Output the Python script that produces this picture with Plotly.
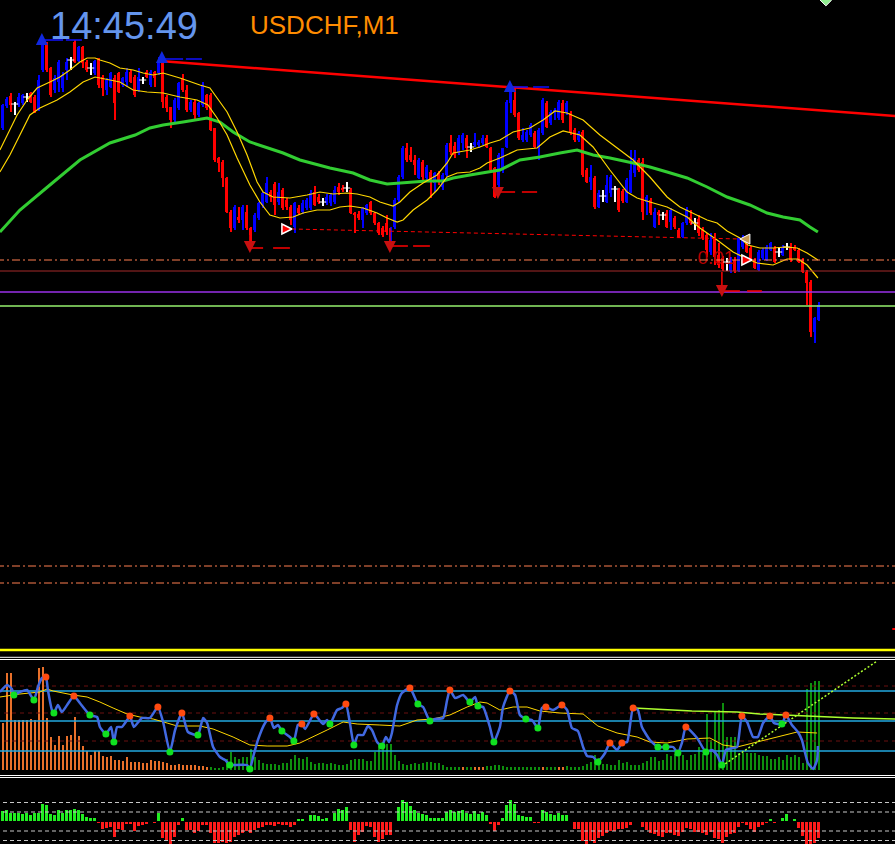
import plotly.graph_objects as go

# ---------------- main chart: USDCHF M1 candles ----------------
opens = [0.90872, 0.90894, 0.90904, 0.90896, 0.90895, 0.90897, 0.90903, 0.90907, 0.90903, 0.90890,
         0.90930, 0.90957, 0.90932, 0.90910, 0.90918, 0.90912, 0.90930, 0.90940, 0.90958, 0.90939,
         0.90953, 0.90938, 0.90932, 0.90927, 0.90942, 0.90923, 0.90910, 0.90913, 0.90922, 0.90927,
         0.90915, 0.90918, 0.90928, 0.90923, 0.90910, 0.90920, 0.90928, 0.90915, 0.90928, 0.90927,
         0.90938, 0.90903, 0.90893, 0.90880, 0.90892, 0.90922, 0.90910, 0.90890, 0.90898, 0.90885,
         0.90895, 0.90905, 0.90905, 0.90872, 0.90842, 0.90838, 0.90822, 0.90788, 0.90772, 0.90783,
         0.90780, 0.90788, 0.90772, 0.90770, 0.90782, 0.90795, 0.90798, 0.90808, 0.90816, 0.90798,
         0.90810, 0.90800, 0.90793, 0.90773, 0.90792, 0.90788, 0.90792, 0.90792, 0.90808, 0.90803,
         0.90798, 0.90797, 0.90797, 0.90798, 0.90813, 0.90812, 0.90812, 0.90810, 0.90787, 0.90786,
         0.90780, 0.90787, 0.90798, 0.90787, 0.90777, 0.90772, 0.90777, 0.90763, 0.90773, 0.90800,
         0.90823, 0.90852, 0.90845, 0.90840, 0.90822, 0.90838, 0.90822, 0.90828, 0.90817, 0.90827,
         0.90813, 0.90825, 0.90857, 0.90854, 0.90847, 0.90857, 0.90862, 0.90853, 0.90855, 0.90855,
         0.90857, 0.90862, 0.90852, 0.90832, 0.90815, 0.90830, 0.90853, 0.90897, 0.90900, 0.90887,
         0.90860, 0.90860, 0.90865, 0.90867, 0.90852, 0.90867, 0.90897, 0.90877, 0.90887, 0.90882,
         0.90897, 0.90888, 0.90887, 0.90870, 0.90860, 0.90868, 0.90830, 0.90818, 0.90822, 0.90793,
         0.90804, 0.90798, 0.90807, 0.90811, 0.90810, 0.90809, 0.90798, 0.90808, 0.90827, 0.90840,
         0.90838, 0.90798, 0.90800, 0.90773, 0.90788, 0.90785, 0.90787, 0.90778, 0.90782, 0.90770,
         0.90763, 0.90777, 0.90783, 0.90777, 0.90781, 0.90770, 0.90765, 0.90748, 0.90762, 0.90745,
         0.90742, 0.90738, 0.90729, 0.90740, 0.90729, 0.90753, 0.90761, 0.90752, 0.90740, 0.90730,
         0.90742, 0.90740, 0.90750, 0.90752, 0.90748, 0.90745, 0.90753, 0.90753, 0.90753, 0.90750,
         0.90740, 0.90728, 0.90718, 0.90668, 0.90680]
highs = [0.90896, 0.90903, 0.90907, 0.90898, 0.90907, 0.90906, 0.90907, 0.90908, 0.90905, 0.90925,
         0.90960, 0.90958, 0.90933, 0.90925, 0.90940, 0.90928, 0.90942, 0.90943, 0.90960, 0.90954,
         0.90954, 0.90940, 0.90937, 0.90940, 0.90942, 0.90925, 0.90922, 0.90928, 0.90925, 0.90928,
         0.90923, 0.90932, 0.90930, 0.90925, 0.90932, 0.90923, 0.90930, 0.90930, 0.90929, 0.90943,
         0.90942, 0.90905, 0.90893, 0.90902, 0.90918, 0.90926, 0.90915, 0.90900, 0.90900, 0.90898,
         0.90918, 0.90906, 0.90907, 0.90872, 0.90843, 0.90840, 0.90823, 0.90790, 0.90795, 0.90793,
         0.90795, 0.90795, 0.90773, 0.90787, 0.90798, 0.90808, 0.90823, 0.90810, 0.90818, 0.90817,
         0.90812, 0.90802, 0.90795, 0.90798, 0.90795, 0.90800, 0.90802, 0.90810, 0.90814, 0.90806,
         0.90802, 0.90806, 0.90807, 0.90814, 0.90817, 0.90815, 0.90818, 0.90812, 0.90788, 0.90789,
         0.90793, 0.90796, 0.90799, 0.90788, 0.90778, 0.90774, 0.90785, 0.90773, 0.90802, 0.90825,
         0.90854, 0.90857, 0.90853, 0.90845, 0.90842, 0.90840, 0.90835, 0.90830, 0.90828, 0.90829,
         0.90827, 0.90857, 0.90865, 0.90858, 0.90865, 0.90867, 0.90865, 0.90857, 0.90867, 0.90860,
         0.90865, 0.90865, 0.90853, 0.90833, 0.90847, 0.90852, 0.90900, 0.90915, 0.90912, 0.90888,
         0.90872, 0.90870, 0.90877, 0.90869, 0.90872, 0.90902, 0.90899, 0.90890, 0.90892, 0.90900,
         0.90900, 0.90899, 0.90889, 0.90872, 0.90869, 0.90870, 0.90832, 0.90835, 0.90824, 0.90810,
         0.90810, 0.90825, 0.90825, 0.90814, 0.90812, 0.90811, 0.90822, 0.90850, 0.90850, 0.90842,
         0.90842, 0.90805, 0.90802, 0.90792, 0.90790, 0.90788, 0.90790, 0.90792, 0.90784, 0.90772,
         0.90778, 0.90793, 0.90790, 0.90782, 0.90785, 0.90773, 0.90767, 0.90767, 0.90767, 0.90757,
         0.90744, 0.90742, 0.90743, 0.90743, 0.90763, 0.90765, 0.90763, 0.90754, 0.90742, 0.90750,
         0.90752, 0.90755, 0.90758, 0.90754, 0.90753, 0.90755, 0.90757, 0.90757, 0.90755, 0.90752,
         0.90742, 0.90730, 0.90720, 0.90683, 0.90698]
lows = [0.90870, 0.90892, 0.90888, 0.90885, 0.90893, 0.90895, 0.90898, 0.90897, 0.90887, 0.90889,
        0.90928, 0.90928, 0.90903, 0.90907, 0.90908, 0.90908, 0.90920, 0.90930, 0.90937, 0.90938,
        0.90932, 0.90928, 0.90925, 0.90925, 0.90912, 0.90904, 0.90905, 0.90912, 0.90880, 0.90907,
        0.90913, 0.90913, 0.90917, 0.90903, 0.90908, 0.90916, 0.90922, 0.90913, 0.90913, 0.90925,
        0.90892, 0.90888, 0.90872, 0.90878, 0.90890, 0.90908, 0.90888, 0.90888, 0.90880, 0.90883,
        0.90893, 0.90890, 0.90869, 0.90838, 0.90828, 0.90813, 0.90787, 0.90768, 0.90770, 0.90777,
        0.90770, 0.90770, 0.90755, 0.90768, 0.90780, 0.90792, 0.90797, 0.90798, 0.90785, 0.90795,
        0.90790, 0.90790, 0.90775, 0.90767, 0.90785, 0.90786, 0.90790, 0.90790, 0.90794, 0.90796,
        0.90794, 0.90795, 0.90794, 0.90796, 0.90805, 0.90808, 0.90808, 0.90786, 0.90767, 0.90780,
        0.90772, 0.90785, 0.90785, 0.90775, 0.90765, 0.90763, 0.90765, 0.90753, 0.90771, 0.90798,
        0.90821, 0.90838, 0.90838, 0.90825, 0.90821, 0.90820, 0.90820, 0.90802, 0.90808, 0.90815,
        0.90810, 0.90823, 0.90845, 0.90842, 0.90845, 0.90850, 0.90842, 0.90848, 0.90853, 0.90852,
        0.90855, 0.90852, 0.90828, 0.90802, 0.90813, 0.90827, 0.90852, 0.90887, 0.90883, 0.90860,
        0.90858, 0.90858, 0.90863, 0.90852, 0.90840, 0.90865, 0.90872, 0.90875, 0.90880, 0.90880,
        0.90877, 0.90885, 0.90865, 0.90858, 0.90858, 0.90823, 0.90817, 0.90810, 0.90791, 0.90792,
        0.90798, 0.90797, 0.90803, 0.90798, 0.90788, 0.90797, 0.90797, 0.90807, 0.90823, 0.90828,
        0.90780, 0.90785, 0.90785, 0.90772, 0.90775, 0.90780, 0.90772, 0.90770, 0.90771, 0.90762,
        0.90762, 0.90775, 0.90775, 0.90770, 0.90764, 0.90760, 0.90743, 0.90745, 0.90735, 0.90732,
        0.90729, 0.90729, 0.90727, 0.90727, 0.90728, 0.90751, 0.90747, 0.90741, 0.90731, 0.90729,
        0.90740, 0.90739, 0.90749, 0.90737, 0.90743, 0.90744, 0.90750, 0.90738, 0.90749, 0.90737,
        0.90727, 0.90695, 0.90663, 0.90657, 0.90679]
closes = [0.90895, 0.90901, 0.90895, 0.90896, 0.90903, 0.90905, 0.90903, 0.90898, 0.90888, 0.90920,
          0.90958, 0.90930, 0.90905, 0.90922, 0.90938, 0.90925, 0.90938, 0.90940, 0.90938, 0.90953,
          0.90937, 0.90930, 0.90932, 0.90939, 0.90915, 0.90912, 0.90920, 0.90927, 0.90897, 0.90908,
          0.90922, 0.90928, 0.90918, 0.90905, 0.90923, 0.90920, 0.90923, 0.90928, 0.90922, 0.90938,
          0.90898, 0.90892, 0.90880, 0.90900, 0.90917, 0.90910, 0.90890, 0.90898, 0.90885, 0.90897,
          0.90915, 0.90892, 0.90870, 0.90840, 0.90837, 0.90822, 0.90788, 0.90772, 0.90793, 0.90780,
          0.90793, 0.90772, 0.90765, 0.90785, 0.90797, 0.90807, 0.90817, 0.90803, 0.90795, 0.90808,
          0.90792, 0.90793, 0.90780, 0.90797, 0.90787, 0.90797, 0.90800, 0.90807, 0.90795, 0.90798,
          0.90798, 0.90803, 0.90805, 0.90810, 0.90808, 0.90810, 0.90812, 0.90787, 0.90785, 0.90782,
          0.90792, 0.90795, 0.90787, 0.90777, 0.90767, 0.90765, 0.90768, 0.90772, 0.90800, 0.90823,
          0.90852, 0.90840, 0.90840, 0.90835, 0.90840, 0.90823, 0.90833, 0.90820, 0.90827, 0.90818,
          0.90825, 0.90855, 0.90848, 0.90845, 0.90862, 0.90865, 0.90852, 0.90853, 0.90858, 0.90858,
          0.90862, 0.90853, 0.90830, 0.90803, 0.90845, 0.90852, 0.90898, 0.90912, 0.90885, 0.90862,
          0.90865, 0.90868, 0.90875, 0.90853, 0.90870, 0.90900, 0.90873, 0.90888, 0.90890, 0.90898,
          0.90880, 0.90897, 0.90868, 0.90860, 0.90867, 0.90825, 0.90818, 0.90823, 0.90793, 0.90807,
          0.90804, 0.90815, 0.90823, 0.90811, 0.90790, 0.90799, 0.90820, 0.90830, 0.90842, 0.90830,
          0.90788, 0.90803, 0.90787, 0.90788, 0.90785, 0.90785, 0.90773, 0.90790, 0.90773, 0.90763,
          0.90777, 0.90790, 0.90777, 0.90777, 0.90767, 0.90762, 0.90750, 0.90760, 0.90743, 0.90735,
          0.90731, 0.90738, 0.90742, 0.90729, 0.90762, 0.90762, 0.90748, 0.90742, 0.90732, 0.90748,
          0.90750, 0.90753, 0.90757, 0.90738, 0.90748, 0.90753, 0.90753, 0.90740, 0.90750, 0.90738,
          0.90728, 0.90717, 0.90668, 0.90682, 0.90695]

# moving averages (bar index, price)
ma_fast = [(-0.7, 0.90850), (1.1, 0.90865), (3.6, 0.90885), (6.1, 0.90900), (8.6, 0.90912), (11.8, 0.90918),
           (14.3, 0.90923), (16.8, 0.90930), (19.3, 0.90938), (21.1, 0.90942), (23.1, 0.90942), (24.3, 0.90940),
           (26.8, 0.90937), (29.3, 0.90932), (32.6, 0.90930), (35.1, 0.90927), (37.6, 0.90925), (40.1, 0.90927),
           (44.3, 0.90922), (49.3, 0.90915), (51.8, 0.90912), (53.6, 0.90902), (56.1, 0.90888), (58.6, 0.90868),
           (61.1, 0.90845), (63.6, 0.90818), (65.1, 0.90808), (67.6, 0.90803), (71.8, 0.90802), (76.1, 0.90805),
           (79.3, 0.90808), (82.6, 0.90806), (86.1, 0.90807), (88.6, 0.90806), (91.8, 0.90803), (94.3, 0.90798),
           (97.6, 0.90794), (99.3, 0.90798), (101.8, 0.90808), (105.1, 0.90817), (108.6, 0.90825), (111.1, 0.90837),
           (112.6, 0.90847), (116.8, 0.90850), (119.3, 0.90853), (121.8, 0.90857), (124.3, 0.90860), (127.6, 0.90868),
           (131.8, 0.90872), (135.1, 0.90880), (138.1, 0.90889), (141.1, 0.90887), (145.1, 0.90880), (149.3, 0.90865),
           (153.6, 0.90852), (157.6, 0.90840), (161.8, 0.90823), (166.1, 0.90803), (169.3, 0.90793), (172.6, 0.90787),
           (176.1, 0.90780), (178.6, 0.90777), (181.1, 0.90769), (184.3, 0.90762), (186.3, 0.90755), (189.3, 0.90752),
           (192.6, 0.90752), (195.6, 0.90753), (198.6, 0.90752), (201.1, 0.90747), (203.8, 0.90740)]
ma_mid = [(-0.7, 0.90828), (1.8, 0.90845), (4.3, 0.90865), (6.8, 0.90885), (9.3, 0.90892), (13.6, 0.90900),
          (16.8, 0.90908), (20.1, 0.90918), (23.1, 0.90923), (24.3, 0.90922), (26.8, 0.90920), (29.3, 0.90918),
          (32.6, 0.90910), (36.1, 0.90908), (40.1, 0.90907), (44.3, 0.90903), (48.6, 0.90900), (51.3, 0.90895),
          (53.6, 0.90882), (56.1, 0.90865), (58.6, 0.90842), (61.8, 0.90815), (64.3, 0.90798), (66.8, 0.90785),
          (69.3, 0.90782), (72.6, 0.90783), (75.1, 0.90787), (78.6, 0.90790), (81.8, 0.90790), (84.3, 0.90793),
          (86.8, 0.90794), (90.1, 0.90792), (93.6, 0.90787), (96.1, 0.90782), (98.6, 0.90778), (100.1, 0.90780),
          (102.6, 0.90790), (106.1, 0.90800), (108.6, 0.90810), (111.1, 0.90823), (113.6, 0.90827), (116.8, 0.90828),
          (119.3, 0.90832), (121.1, 0.90837), (124.3, 0.90842), (128.6, 0.90850), (133.6, 0.90852), (136.8, 0.90863),
          (140.1, 0.90869), (144.3, 0.90865), (147.6, 0.90853), (151.8, 0.90830), (156.1, 0.90808), (158.6, 0.90802),
          (161.8, 0.90798), (166.1, 0.90793), (171.1, 0.90783), (174.3, 0.90772), (178.6, 0.90760), (182.6, 0.90748),
          (185.1, 0.90743), (188.6, 0.90737), (192.6, 0.90735), (196.1, 0.90741), (198.8, 0.90741), (201.1, 0.90735),
          (203.8, 0.90722)]
ma_slow = [(-0.7, 0.90768), (4.3, 0.90790), (11.8, 0.90815), (19.3, 0.90840), (26.8, 0.90857), (33.1, 0.90865),
           (36.8, 0.90872), (40.1, 0.90875), (45.1, 0.90878), (51.1, 0.90882), (54.3, 0.90878), (57.6, 0.90868),
           (61.8, 0.90858), (66.1, 0.90852), (70.1, 0.90847), (74.3, 0.90840), (78.6, 0.90835), (81.8, 0.90832),
           (87.6, 0.90827), (91.8, 0.90820), (96.1, 0.90816), (99.3, 0.90817), (106.1, 0.90819), (110.1, 0.90819),
           (112.6, 0.90822), (116.8, 0.90825), (121.1, 0.90828), (124.3, 0.90830), (129.3, 0.90840), (134.3, 0.90843),
           (139.3, 0.90847), (143.6, 0.90850), (147.6, 0.90845), (151.8, 0.90842), (157.6, 0.90837), (161.8, 0.90833),
           (166.1, 0.90828), (171.1, 0.90822), (176.1, 0.90813), (181.1, 0.90803), (186.8, 0.90795), (191.1, 0.90787),
           (195.1, 0.90783), (199.3, 0.90780), (201.8, 0.90773), (203.8, 0.90768)]

# horizontal price levels
levels_dashdot = [0.90740, 0.90434, 0.90417]
level_brown = 0.90729
level_purple = 0.90708
level_lime = 0.90694

# objects
trend_line = [(39.3, 0.90939), (223.1, 0.90884)]
dashed_line = [(72.3, 0.90771), (184.3, 0.90761)]
high_marks = [(9.8, 15.1, 0.90960), (15.8, 19.8, 0.90960), (39.8, 45.1, 0.90941), (45.8, 49.8, 0.90941),
              (126.8, 131.3, 0.90913), (132.6, 136.6, 0.90913)]
low_marks = [(61.8, 65.1, 0.90752), (67.6, 71.8, 0.90752), (96.8, 101.3, 0.90754), (102.6, 106.8, 0.90754),
             (123.6, 128.1, 0.90808), (129.8, 133.6, 0.90808), (179.8, 184.3, 0.90709), (186.1, 189.8, 0.90709)]
low_verticals = [(61.8, 0.90770, 0.90752), (96.8, 0.90772, 0.90754), (179.8, 0.90728, 0.90709)]
up_arrows = [(9.8, 0.90967), (39.8, 0.90949), (126.8, 0.90920)]
down_arrows = [(61.8, 0.90747), (96.8, 0.90747), (123.8, 0.90801), (179.8, 0.90703)]
right_marks = [(72.3, 0.90771), (187.3, 0.90740)]
left_marks = [(184.3, 0.90761)]
lot_label = (178.3, 0.90741, "0.01")

# ---------------- sub window 1 ----------------
vol_top = [48, 98, 98, 51, 51, 51, 51, 52, 51, 103, 104, 53, 34, 26, 35, 26, 35, 36, 54, 35,
           25, 20, 16, 20, 20, 15, 14, 15, 11, 11, 10, 14, 9, 9, 9, 8, 8, 11, 10, 10,
           9, 8, 6, 6, 7, 6, 6, 6, 6, 5, 5, 4, 4, 3, 3, 4, 12, 19, 14, 12,
           14, 14, 22, 14, 11, 8, 7, 7, 7, 6, 8, 8, 12, 16, 13, 12, 14, 9, 7, 8,
           8, 7, 8, 7, 6, 6, 7, 11, 12, 12, 12, 10, 10, 19, 28, 24, 27, 27, 16, 10,
           7, 6, 7, 8, 7, 8, 9, 9, 8, 8, 6, 4, 4, 4, 4, 4, 4, 4, 4, 4,
           4, 5, 5, 6, 6, 5, 4, 4, 4, 4, 4, 4, 4, 4, 4, 4, 4, 4, 4, 4,
           4, 5, 4, 4, 4, 5, 7, 9, 16, 13, 7, 7, 6, 6, 11, 8, 9, 6, 6, 6,
           8, 10, 14, 14, 10, 11, 17, 15, 17, 15, 16, 11, 16, 17, 24, 17, 57, 31, 59, 61,
           68, 34, 34, 34, 18, 18, 18, 18, 18, 16, 15, 15, 12, 12, 14, 11, 16, 14, 16, 14,
           8, 82, 88, 90, 90]
vol_orange_bars = list(range(0, 52)) + [115, 118, 119, 120, 135, 139, 140]

osc_line = [(-0.7, 79), (1.1, 86), (2.3, 82), (2.8, 76), (4.3, 79), (6.1, 81), (7.8, 71), (8.8, 84), (9.8, 93),
            (10.8, 94), (11.3, 81), (12.3, 61), (12.8, 58), (13.8, 66), (14.8, 59), (16.1, 66), (17.8, 75),
            (19.3, 68), (21.8, 56), (23.6, 54), (24.3, 44), (25.8, 37), (27.1, 44), (27.8, 29), (28.6, 44),
            (29.8, 44), (31.1, 51), (31.8, 55), (32.8, 44), (34.8, 53), (36.8, 53), (38.8, 64), (40.1, 49),
            (41.8, 19), (43.1, 41), (44.8, 58), (46.3, 39), (48.8, 36), (50.1, 53), (51.1, 48), (52.6, 24),
            (54.3, 14), (55.6, 11), (56.8, 6), (57.6, 6), (61.1, 6), (61.8, 2), (62.6, 14), (63.8, 31),
            (65.6, 48), (66.8, 53), (67.8, 43), (68.8, 46), (69.8, 40), (71.8, 34), (72.8, 30), (73.8, 46),
            (74.8, 47), (75.6, 42), (77.8, 57), (78.8, 53), (80.1, 47), (81.1, 51), (81.8, 47), (83.6, 61),
            (84.8, 63), (85.8, 67), (86.8, 48), (87.8, 26), (88.8, 36), (90.1, 36), (91.3, 45), (92.3, 41),
            (93.6, 29), (94.8, 25), (95.8, 34), (96.6, 29), (97.3, 38), (98.6, 66), (99.8, 78), (101.8, 83),
            (103.8, 67), (105.1, 64), (106.8, 50), (108.1, 52), (110.1, 53), (111.1, 71), (111.8, 81),
            (113.1, 73), (115.1, 76), (116.8, 69), (118.1, 74), (118.8, 65), (120.1, 64), (121.8, 44),
            (122.8, 29), (124.3, 44), (125.1, 64), (126.8, 80), (128.1, 76), (129.3, 56), (130.8, 52),
            (132.3, 51), (133.8, 43), (134.8, 63), (135.8, 64), (137.6, 61), (139.8, 66), (141.1, 61),
            (142.3, 43), (143.8, 40), (145.1, 24), (146.1, 15), (147.6, 14), (148.8, 9), (149.3, 11),
            (150.6, 18), (151.8, 28), (153.6, 21), (154.8, 28), (156.1, 29), (157.6, 63), (158.8, 61),
            (159.8, 44), (161.8, 31), (163.8, 24), (165.8, 24), (167.6, 24), (168.8, 18), (169.8, 28),
            (170.8, 44), (173.6, 33), (175.8, 19), (177.3, 21), (178.6, 16), (179.8, 6), (180.8, 21),
            (182.6, 23), (183.6, 24), (184.8, 55), (186.1, 49), (187.6, 34), (188.8, 34), (190.1, 48),
            (191.8, 55), (192.8, 48), (194.8, 47), (195.8, 56), (197.3, 46), (198.8, 39), (199.8, 31),
            (200.6, 18), (201.3, 8), (202.6, 2), (203.6, 11), (203.8, 25)]
osc_peaks = [(10.8, 94), (17.8, 75), (31.8, 55), (38.8, 64), (44.8, 58), (66.8, 53), (74.8, 47), (77.8, 57),
             (85.8, 67), (101.8, 83), (111.8, 81), (126.8, 80), (135.8, 64), (139.8, 66), (151.8, 28),
             (154.8, 28), (157.6, 63), (170.8, 44), (184.8, 55), (191.8, 55), (195.8, 56)]
osc_troughs = [(2.8, 76), (7.8, 71), (12.8, 58), (21.8, 56), (25.8, 37), (27.8, 29), (41.8, 19), (48.8, 36),
               (56.8, 6), (61.8, 2), (69.8, 40), (72.8, 30), (81.8, 47), (87.8, 26), (94.8, 25), (103.8, 67),
               (106.8, 50), (116.8, 69), (118.8, 65), (122.8, 29), (130.8, 52), (133.8, 43), (148.8, 9),
               (163.8, 24), (165.8, 24), (168.8, 18), (175.8, 19), (179.8, 6), (194.8, 47)]
signal_line = [(-0.7, 74), (4.3, 77), (9.3, 79), (11.1, 82), (12.6, 80), (17.6, 76), (21.1, 74), (24.3, 69),
               (27.6, 63), (31.1, 57), (34.3, 54), (37.6, 52), (41.1, 48), (43.6, 45), (49.3, 45), (52.6, 42),
               (57.6, 34), (61.8, 26), (66.1, 25), (71.1, 25), (74.3, 28), (77.6, 34), (81.1, 41), (85.1, 49),
               (88.6, 47), (94.3, 46), (99.3, 45), (103.6, 51), (107.6, 52), (111.8, 56), (116.1, 64),
               (119.3, 69), (121.1, 68), (124.3, 61), (127.6, 64), (131.1, 64), (134.3, 60), (139.3, 58),
               (145.1, 57), (148.8, 45), (153.6, 38), (158.6, 34), (161.8, 29), (166.1, 28), (171.1, 32),
               (176.8, 33), (180.1, 26), (183.6, 24), (188.6, 29), (193.6, 34), (198.6, 39), (203.6, 38)]
osc_trend_a = [(157.8, 63), (172.3, 60), (183.6, 59), (189.3, 57), (201.1, 55), (212.6, 53), (223.1, 52)]
osc_trend_b = [(179.8, 5), (218.6, 110)]
osc_levels = [80, 50, 20]
osc_dash_levels = [85, 58, 30]

# ---------------- sub window 2 ----------------
hist2 = [10.5, 11.5, 8.5, 8.5, 8.5, 7.5, 8.5, 6.5, 8.5, 8.5,
         17.5, 16.5, 7.5, 6.5, 11.5, 8.5, 11.5, 11.5, 12.5, 12,
         7.5, 4.5, 3.5, 4, -1.5, -7.5, -6.5, -5.5, -15.5, -7.5,
         -8.5, -2.5, -2.5, -9.5, -4.5, -3.5, -2.5, 0, -1.5, 8.5,
         -16.5, -18.5, -22.5, -15.5, -3.5, 3.5, -8.5, -8.5, -11.5, -9.5,
         -3.5, -3.5, -11.5, -21.5, -21.5, -20.5, -21.5, -20.5, -15.5, -13.5,
         -11.5, -9.5, -11.5, -8.5, -6.5, -5.5, -3.5, -3.5, -4.5, -2.5,
         -3.5, -3.5, -5.5, -3.5, 2.5, 2.5, 0, 6.5, 6.5, 5.5,
         2.5, 3.5, 0, 8.5, 12.5, 11.5, 14.5, -8.5, -20.5, -13.5,
         -10.5, -4.5, -5.5, -15.5, -20.5, -17.5, -13.5, -13.5, 0, 14.5,
         21.5, 19.5, 15.5, 11.5, 8.5, 7.5, 6.5, 3.5, 3.5, 3.5,
         3.5, 9.5, 11.5, 9.5, 10.5, 11.5, 8.5, 7.5, 10.5, 7.5,
         9.5, 6.5, -2.5, -9.5, -3.5, 3.5, 16.5, 21.5, 17.5, 6.5,
         5.5, 4.5, 4.5, -1.5, -1.5, 11.5, 9.5, 7.5, 6.5, 8.5,
         6.5, 6.5, 0, -7.5, -7.5, -19.5, -22.5, -19.5, -21.5, -16.5,
         -14.5, -11.5, -9.5, -9.5, -7.5, -7.5, -6.5, -3.5, 0, 0,
         -5.5, -8.5, -11.5, -12.5, -14.5, -15.5, -11.5, -11.5, -13.5, -14.5,
         -10.5, -6.5, -7.5, -10.5, -10.5, -11.5, -13.5, -10.5, -16.5, -17.5,
         -21.5, -15.5, -12.5, -11.5, -5.5, -1.5, -3.5, -7.5, -10.5, -5.5,
         -3.5, -1.5, 2.5, -1.5, 0, 3.5, 7.5, 0, 2.5, -6.5,
         -14.5, -22.5, -22.5, -21.5, -16.5]
hist2_levels = [19, 9.5, -9.5, -19]

# ================= figure =================
W, H = 895, 844
fig = go.Figure()
X0, X1 = -0.675, 223.075


def xs_of(pairs):
    return [p[0] for p in pairs]


def ys_of(pairs):
    return [p[1] for p in pairs]


def hline(y, color, width, dash, axis):
    fig.add_trace(go.Scatter(x=[X0 - 1, X1 + 1], y=[y, y], mode="lines", yaxis=axis,
                             line=dict(color=color, width=width, dash=dash), hoverinfo="skip"))


# label behind candles
fig.add_trace(go.Scatter(x=[lot_label[0]], y=[lot_label[1]], mode="text", text=[lot_label[2]],
                         textfont=dict(family="Liberation Sans", size=19, color="#B80000"), yaxis="y"))

# candles
groups = {"up": "#0000FF", "dn": "#FF0000", "doji": "#FFFFFF"}
wick = {k: dict(x=[], base=[], y=[]) for k in groups}
body = {k: dict(x=[], base=[], y=[]) for k in groups}
doji_x, doji_y = [], []
for i, (o, h, l, c) in enumerate(zip(opens, highs, lows, closes)):
    k = "up" if c > o else ("dn" if c < o else "doji")
    wick[k]["x"].append(i)
    wick[k]["base"].append(l)
    wick[k]["y"].append(h - l)
    if k == "doji":
        doji_x.append(i)
        doji_y.append(c)
    else:
        body[k]["x"].append(i)
        body[k]["base"].append(min(o, c))
        body[k]["y"].append(abs(c - o))
for k, col in groups.items():
    fig.add_trace(go.Bar(x=wick[k]["x"], y=wick[k]["y"], base=wick[k]["base"], width=0.25,
                         marker=dict(color=col, line=dict(width=0)), yaxis="y"))
    if body[k]["x"]:
        fig.add_trace(go.Bar(x=body[k]["x"], y=body[k]["y"], base=body[k]["base"], width=0.82,
                             marker=dict(color=col, line=dict(width=0)), yaxis="y"))
fig.add_trace(go.Scatter(x=doji_x, y=doji_y, mode="markers", yaxis="y",
                         marker=dict(symbol="line-ew", size=5, line=dict(color="#FFFFFF", width=1))))

# moving averages
fig.add_trace(go.Scatter(x=xs_of(ma_slow), y=ys_of(ma_slow), mode="lines", yaxis="y",
                         line=dict(color="#32CD32", width=3)))
fig.add_trace(go.Scatter(x=xs_of(ma_fast), y=ys_of(ma_fast), mode="lines", yaxis="y",
                         line=dict(color="#FFD700", width=1.2)))
fig.add_trace(go.Scatter(x=xs_of(ma_mid), y=ys_of(ma_mid), mode="lines", yaxis="y",
                         line=dict(color="#FFD700", width=1.2)))

# horizontal levels on price
for lv in levels_dashdot:
    hline(lv, "#FF7F50", 1, "8px,3px,2px,3px", "y")
hline(level_brown, "#A52A2A", 1, "solid", "y")
hline(level_purple, "#9A30E8", 1.5, "solid", "y")
hline(level_lime, "#96F06E", 1.5, "solid", "y")

# trend line and dashed line
fig.add_trace(go.Scatter(x=xs_of(trend_line), y=ys_of(trend_line), mode="lines", yaxis="y",
                         line=dict(color="#FF0000", width=2.5)))
fig.add_trace(go.Scatter(x=xs_of(dashed_line), y=ys_of(dashed_line), mode="lines", yaxis="y",
                         line=dict(color="#FF0000", width=1, dash="4px,3px")))

# high / low markers
hx, hy = [], []
for a, b, y in high_marks:
    hx += [a, b, None]
    hy += [y, y, None]
fig.add_trace(go.Scatter(x=hx, y=hy, mode="lines", yaxis="y", line=dict(color="#1010FF", width=1.5)))
lx, ly = [], []
for a, b, y in low_marks:
    lx += [a, b, None]
    ly += [y, y, None]
for x, y0, y1 in low_verticals:
    lx += [x, x, None]
    ly += [y0, y1, None]
fig.add_trace(go.Scatter(x=lx, y=ly, mode="lines", yaxis="y", line=dict(color="#FF0000", width=1.5)))

fig.add_trace(go.Scatter(x=xs_of(up_arrows), y=ys_of(up_arrows), mode="markers", yaxis="y",
                         marker=dict(symbol="arrow-up", size=12, color="#1028E0", line=dict(width=0))))
fig.add_trace(go.Scatter(x=xs_of(down_arrows), y=ys_of(down_arrows), mode="markers", yaxis="y",
                         marker=dict(symbol="arrow-down", size=12, color="#C81010", line=dict(width=0))))
fig.add_trace(go.Scatter(x=xs_of(right_marks), y=ys_of(right_marks), mode="markers", yaxis="y",
                         marker=dict(symbol="arrow-right", size=10, color="#FF0000",
                                     line=dict(color="#FFFFFF", width=1.5))))
fig.add_trace(go.Scatter(x=xs_of(left_marks), y=ys_of(left_marks), mode="markers", yaxis="y",
                         marker=dict(symbol="arrow-left", size=10, color="#C89A50",
                                     line=dict(color="#FFFFFF", width=1))))
fig.add_trace(go.Scatter(x=[205.8], y=[0.91000], mode="markers", yaxis="y",
                         marker=dict(symbol="diamond", size=9, color="#90EE90",
                                     line=dict(color="#FFFFFF", width=1))))
fig.add_trace(go.Scatter(x=[222.4, 223.1], y=[0.90371, 0.90371], mode="lines", yaxis="y",
                         line=dict(color="#FF0000", width=2)))

# ---- sub window 1 ----
vol_cols = ["#E8702A" if i in vol_orange_bars else "#0E8E0E" for i in range(len(vol_top))]
fig.add_trace(go.Bar(x=list(range(len(vol_top))), y=[v - 1 for v in vol_top], base=1, width=0.25,
                     marker=dict(color=vol_cols, line=dict(width=0)), yaxis="y2"))
for lv in osc_dash_levels:
    hline(lv, "#6B1010", 1, "4px,4px", "y2")
for lv in osc_levels:
    hline(lv, "#22A8E0", 1.5, "solid", "y2")
fig.add_trace(go.Scatter(x=xs_of(signal_line), y=ys_of(signal_line), mode="lines", yaxis="y2",
                         line=dict(color="#FFD700", width=1)))
fig.add_trace(go.Scatter(x=xs_of(osc_trend_a), y=ys_of(osc_trend_a), mode="lines", yaxis="y2",
                         line=dict(color="#ADFF2F", width=1.5)))
fig.add_trace(go.Scatter(x=xs_of(osc_trend_b), y=ys_of(osc_trend_b), mode="lines", yaxis="y2",
                         line=dict(color="#ADFF2F", width=1.5, dash="2px,2px")))
fig.add_trace(go.Scatter(x=xs_of(osc_line), y=ys_of(osc_line), mode="lines", yaxis="y2",
                         line=dict(color="#4169E1", width=2.5, shape="spline", smoothing=0.5)))
fig.add_trace(go.Scatter(x=xs_of(osc_peaks), y=ys_of(osc_peaks), mode="markers", yaxis="y2",
                         marker=dict(symbol="circle", size=7, color="#FF4A10", line=dict(width=0))))
fig.add_trace(go.Scatter(x=xs_of(osc_troughs), y=ys_of(osc_troughs), mode="markers", yaxis="y2",
                         marker=dict(symbol="circle", size=7, color="#10E020", line=dict(width=0))))

# ---- sub window 2 ----
for lv in hist2_levels:
    hline(lv, "#C8C8C8", 1, "4px,3px", "y3")
gx = [i for i, v in enumerate(hist2) if v > 1]
gy = [hist2[i] - 1 for i in gx]
rx = [i for i, v in enumerate(hist2) if v < 0]
ry = [hist2[i] + 0.5 for i in rx]
fig.add_trace(go.Bar(x=gx, y=gy, base=1, width=0.75, yaxis="y3",
                     marker=dict(color="#22EE22", line=dict(width=0))))
fig.add_trace(go.Bar(x=rx, y=ry, base=-0.5, width=0.75, yaxis="y3",
                     marker=dict(color="#FF1A1A", line=dict(width=0))))


def py(px):
    return 1 - px / H


shapes = [
    dict(type="line", xref="paper", yref="paper", x0=0, x1=1, y0=py(650), y1=py(650),
         line=dict(color="#FFFF00", width=2.5)),
    dict(type="line", xref="paper", yref="paper", x0=0, x1=1, y0=py(657.3), y1=py(657.3),
         line=dict(color="#FFFFFF", width=1)),
    dict(type="line", xref="paper", yref="paper", x0=0, x1=1, y0=py(659.5), y1=py(659.5),
         line=dict(color="#FFFFFF", width=1)),
    dict(type="line", xref="paper", yref="paper", x0=0, x1=1, y0=py(775.5), y1=py(775.5),
         line=dict(color="#FFFFFF", width=1)),
    dict(type="line", xref="paper", yref="paper", x0=0, x1=1, y0=py(777.5), y1=py(777.5),
         line=dict(color="#FFFFFF", width=1)),
]

annotations = [
    dict(text="14:45:49", xref="paper", yref="paper", x=48 / W, y=py(26), xanchor="left",
         yanchor="middle", showarrow=False,
         font=dict(family="Liberation Sans", size=38, color="#6495ED")),
    dict(text="USDCHF,M1", xref="paper", yref="paper", x=248 / W, y=py(25), xanchor="left",
         yanchor="middle", showarrow=False,
         font=dict(family="Liberation Sans", size=26, color="#FF8C00")),
]

fig.update_layout(
    width=W, height=H, margin=dict(l=0, r=0, t=0, b=0, pad=0),
    paper_bgcolor="#000000", plot_bgcolor="#000000",
    showlegend=False, barmode="overlay", bargap=0, hovermode=False,
    xaxis=dict(range=[X0, X1], visible=False, fixedrange=True),
    yaxis=dict(domain=[py(650), 1], range=[0.90350, 0.91000], visible=False, fixedrange=True),
    yaxis2=dict(domain=[py(776), py(659)], range=[-5, 112], visible=False, fixedrange=True),
    yaxis3=dict(domain=[0, py(780)], range=[-22.5, 41.5], visible=False, fixedrange=True),
    shapes=shapes, annotations=annotations,
)

fig.write_html("out.html", config={"displayModeBar": False})
